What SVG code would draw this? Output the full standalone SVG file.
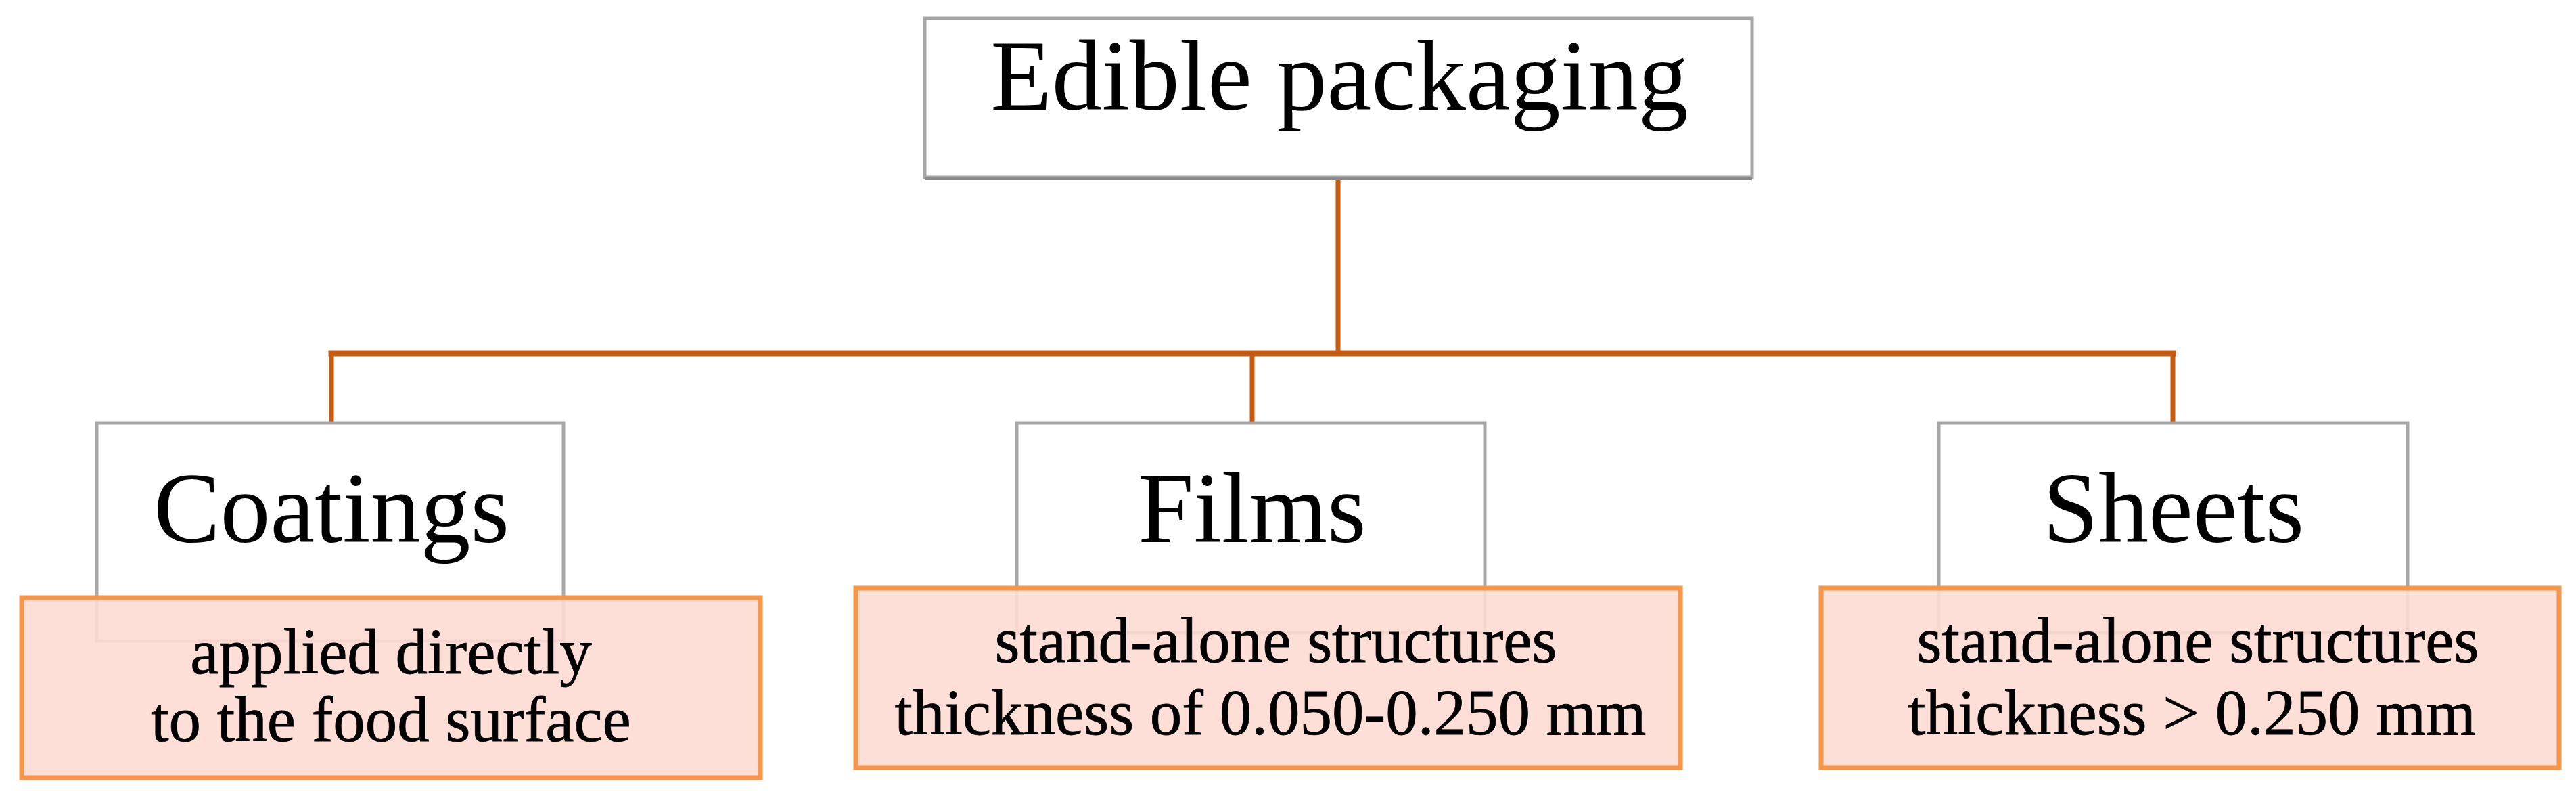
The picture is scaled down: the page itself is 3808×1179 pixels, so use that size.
<svg xmlns="http://www.w3.org/2000/svg" width="3808" height="1179" viewBox="0 0 3808 1179">
<style>
.gbox{fill:#ffffff;stroke:#a6a6a6;stroke-width:5}
.shadow{fill:none;stroke:#8a8a8a;stroke-width:4}
.pbox{fill:#fddcd3;fill-opacity:0.9;stroke:#f79548;stroke-width:7}
.conn{fill:none;stroke:#c55a11;stroke-linecap:square}
.big{font-family:"Liberation Serif","Times New Roman",serif;font-size:148px;fill:#000;text-anchor:middle}
.small{font-family:"Liberation Serif","Times New Roman",serif;font-size:95px;fill:#000;stroke:#000;stroke-width:0.8;text-anchor:middle}
</style>
<rect width="3808" height="1179" fill="#ffffff"/>
<g id="connectors">
<line class="conn" x1="1978" y1="264" x2="1978" y2="522" stroke-width="7"/>
<line class="conn" x1="490" y1="522" x2="3212" y2="522" stroke-width="9"/>
<line class="conn" x1="490" y1="522" x2="490" y2="625" stroke-width="7"/>
<line class="conn" x1="1851" y1="522" x2="1851" y2="625" stroke-width="7"/>
<line class="conn" x1="3212" y1="522" x2="3212" y2="625" stroke-width="7"/>
</g>
<g id="node-edible-packaging">
<rect class="gbox" x="1367" y="27" width="1223" height="235"/>
<line class="shadow" x1="1367" y1="264" x2="2590" y2="264"/>
<text class="big" x="1980" y="162">Edible packaging</text>
</g>
<g id="node-coatings">
<rect class="gbox" x="143" y="625" width="690" height="322"/>
<text class="big" x="490" y="801">Coatings</text>
</g>
<g id="node-films">
<rect class="gbox" x="1503" y="625" width="692" height="310"/>
<text class="big" x="1851" y="801">Films</text>
</g>
<g id="node-sheets">
<rect class="gbox" x="2866" y="625" width="693" height="310"/>
<text class="big" x="3213" y="801">Sheets</text>
</g>
<g id="node-coatings-desc">
<rect class="pbox" x="32" y="883" width="1092" height="266"/>
<text class="small" x="578" y="995">applied directly</text>
<text class="small" x="578" y="1095">to the food surface</text>
</g>
<g id="node-films-desc">
<rect class="pbox" x="1265" y="869" width="1219" height="265"/>
<text class="small" x="1886" y="978">stand-alone structures</text>
<text class="small" x="1878" y="1085">thickness of 0.050-0.250 mm</text>
</g>
<g id="node-sheets-desc">
<rect class="pbox" x="2692" y="869" width="1091" height="265"/>
<text class="small" x="3249" y="978">stand-alone structures</text>
<text class="small" x="3240" y="1085">thickness &gt; 0.250 mm</text>
</g>
</svg>
